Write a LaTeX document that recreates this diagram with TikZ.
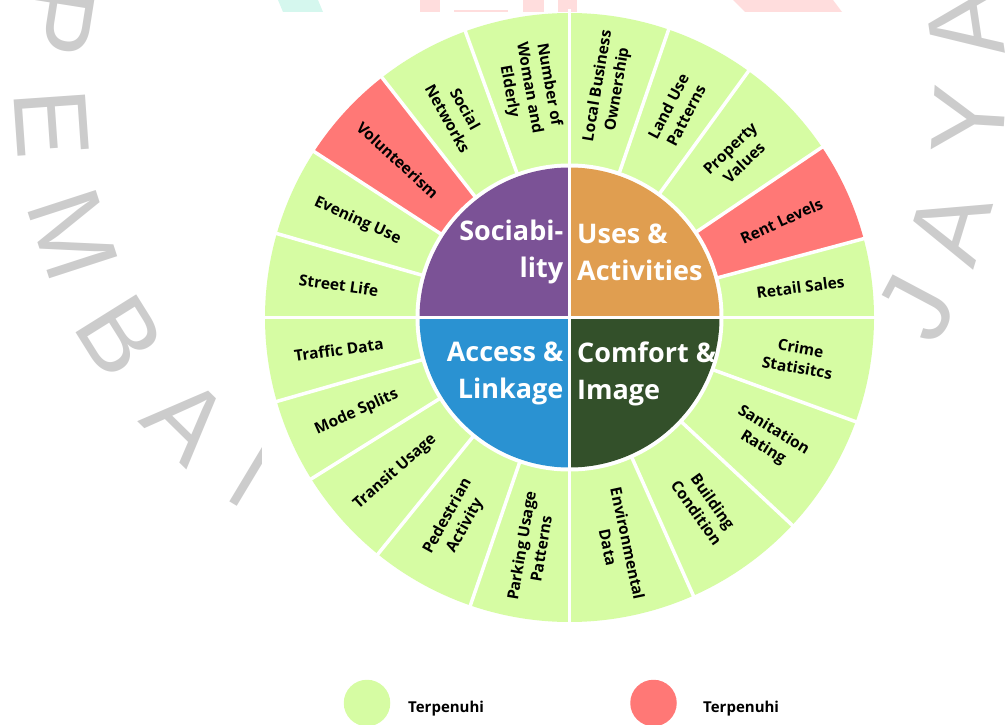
\documentclass[tikz,border=0pt]{standalone}
\usepackage{fontspec}
\setmainfont{Open Sans}
\newfontfamily\markfont{Liberation Sans}
\usetikzlibrary{positioning}

\definecolor{okgreen}{HTML}{D6FCA3}
\definecolor{misred}{HTML}{FF7876}
\definecolor{socpurple}{HTML}{7B5296}
\definecolor{useorange}{HTML}{E09E50}
\definecolor{accblue}{HTML}{2A92D2}
\definecolor{comfgreen}{HTML}{33502A}
\definecolor{markgray}{HTML}{CCCCCC}
\definecolor{logoteal}{HTML}{D5F7EE}
\definecolor{logopink}{HTML}{FFDDDD}

% outer ring: start angle / end angle / fill / label
\def\segs{71/90/okgreen/{Local Business\\Ownership},
  54/71/okgreen/{Land Use\\Patterns},
  34/54/okgreen/{Property\\Values},
  15/34/misred/{Rent Levels},
  0/15/okgreen/{Retail Sales},
  -20/0/okgreen/{Crime\\Statisitcs},
  -43/-20/okgreen/{Sanitation\\Rating},
  -66/-43/okgreen/{Building\\Condition},
  -90/-66/okgreen/{Environmental\\Data},
  251/270/okgreen/{Parking Usage\\Patterns},
  231/251/okgreen/{Pedestrian\\Activity},
  212/231/okgreen/{Transit Usage},
  196/212/okgreen/{Mode Splits},
  180/196/okgreen/{Traffic Data},
  164/180/okgreen/{Street Life},
  147/164/okgreen/{Evening Use},
  128/147/misred/{Volunteerism},
  110/128/okgreen/{Social\\Networks},
  90/110/okgreen/{Number of\\Woman and\\Elderly}}

\begin{document}
\begin{tikzpicture}[
  x=1pt,y=1pt,
  gap/.style={white,line width=3.5pt},
  seglab/.style={align=center,inner sep=0pt,text=black,
                 font=\fontsize{15.5}{20}\selectfont\bfseries},
  corelab/.style={inner sep=0pt,text=white,
                  font=\fontsize{27}{37}\selectfont\bfseries},
  wmark/.style={text=markgray,inner sep=0pt,
                font=\markfont\fontsize{104}{104}\selectfont},
  key/.style={circle,inner sep=0pt,minimum size=46.5pt},
  keylab/.style={inner sep=0pt,font=\fontsize{15}{18}\selectfont\bfseries}
]
\useasboundingbox (0,0) rectangle (1008,724);

% ---- watermark lettering round a big circle ----
\coordinate (wm) at (510,632);
\foreach \l/\t [count=\i] in {P/171,E/184,M/198,B/212,A/225.5,N/239,
                              J/332,A/343,Y/356.5,A/8.5}{
  \node[wmark,rotate=\t+90] (wm\i) at ([shift={(\t:460)}]wm) {\l};
}
% bits of the logo along the top edge
\fill[logoteal] (278,724) -- (318,724) -- (323,712) -- (283,712) -- cycle;
\fill[logopink] (420,712) rectangle (440,724);
\fill[logopink] (454,712) rectangle (508,714);
\fill[logopink] (523,712) rectangle (544,724);
\fill[logopink] (558,712) rectangle (577,724);
\fill[logopink] (733,724) -- (833,724) -- (842,712) -- (745,712) -- cycle;

% white panel under the wheel
\fill[white] (262,74) rectangle (878,712);

\begin{scope}[shift={(569.5,406.5)}]
  % ---- outer ring ----
  \foreach \a/\b/\col/\txt in \segs{
    \fill[\col] (0,0) -- (\a:304.5) arc[start angle=\a,end angle=\b,radius=304.5] -- cycle;
  }
  \foreach \a in {90,71,54,34,15,0,-20,-43,-66,-90,251,231,212,196,180,164,147,128,110}{
    \draw[gap] (0,0) -- (\a:308);
  }
  \fill[white] (0,0) circle[radius=154];

  % ---- four core quadrants ----
  \fill[useorange]  (0,0) -- (0:150)   arc[start angle=0,end angle=90,radius=150] -- cycle;
  \fill[socpurple]  (0,0) -- (90:150)  arc[start angle=90,end angle=180,radius=150] -- cycle;
  \fill[accblue]    (0,0) -- (180:150) arc[start angle=180,end angle=270,radius=150] -- cycle;
  \fill[comfgreen]  (0,0) -- (270:150) arc[start angle=270,end angle=360,radius=150] -- cycle;
  \draw[gap] (-152,0) -- (152,0);
  \draw[gap] (0,-152) -- (0,152);

  \node[corelab,align=right,anchor=east] (soc) at (-6,65.5) {Sociabi-\\lity};
  \node[corelab,align=left,anchor=west]  (use) at (7.5,65.5) {Uses \&\\Activities};
  \node[corelab,align=right,anchor=east] (acc) at (-6,-56) {Access \&\\Linkage};
  \node[corelab,align=left,anchor=west]  (com) at (7.5,-56) {Comfort \&\\Image};

  % ---- ring labels, turned to stay readable ----
  \foreach \a/\b/\col/\txt [count=\i] in \segs{
    \pgfmathsetmacro\ang{(\a+\b)/2}
    \pgfmathsetmacro\rot{\ang>90 ? \ang-180 : \ang}
    \node[seglab,rotate=\rot] (s\i) at (\ang:233) {\txt};
  }
\end{scope}

% ---- key ----
\node[key,fill=okgreen] (k1) at (367,21) {};
\node[keylab,anchor=base west] (k1t) at (408,12) {Terpenuhi};
\node[key,fill=misred] (k2) at (653.5,21) {};
\node[keylab,anchor=base west] (k2t) at (703,12) {Terpenuhi};

\end{tikzpicture}
\end{document}
